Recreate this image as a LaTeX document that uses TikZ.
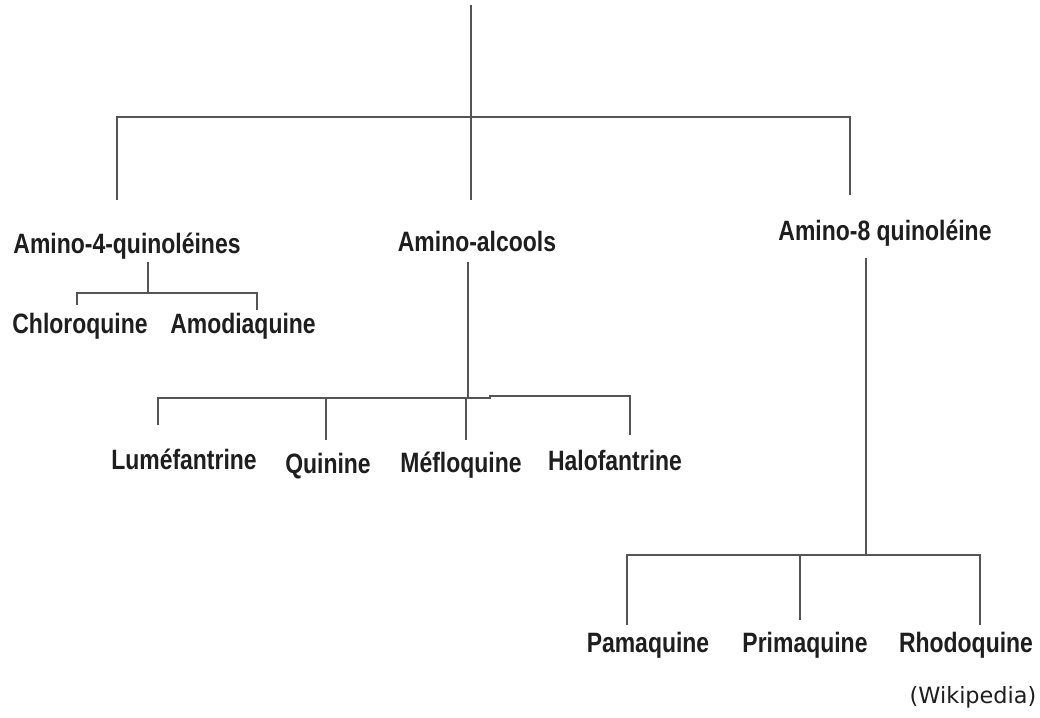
\documentclass[tikz,border=0pt]{standalone}
\usepackage{fontspec}
\setmainfont{Liberation Sans}
\newfontfamily\srcfont{DejaVu Sans}
\definecolor{linegray}{HTML}{555555}
\definecolor{txt}{HTML}{1E1E1E}
\newcommand{\lbl}[1]{\scalebox{0.82}[1]{\bfseries #1}}
\begin{document}
\begin{tikzpicture}[x=0.75pt,y=-0.75pt,
  edge/.style={draw=linegray,line width=1.6pt},
  lab/.style={inner sep=0pt,anchor=base,text=txt,font=\fontsize{21}{24}\selectfont},
  src/.style={inner sep=0pt,anchor=base,text=txt,font=\srcfont\fontsize{16.8}{19}\selectfont}]
\useasboundingbox (0,0) rectangle (1040,718);
\fill[white] (0,0) rectangle (1040,718);
% labels
\node[lab] (a4q) at (127,253) {\lbl{Amino-4-quinoléines}};
\node[lab] (chl) at (80,333) {\lbl{Chloroquine}};
\node[lab] (amo) at (243,333) {\lbl{Amodiaquine}};
\node[lab] (aal) at (477,251) {\lbl{Amino-alcools}};
\node[lab] (lum) at (184,469) {\lbl{Luméfantrine}};
\node[lab] (qui) at (328,473) {\lbl{Quinine}};
\node[lab] (mef) at (461,472) {\lbl{Méfloquine}};
\node[lab] (hal) at (615,470) {\lbl{Halofantrine}};
\node[lab] (a8q) at (885,240) {\lbl{Amino-8 quinoléine}};
\node[lab] (pam) at (648,652) {\lbl{Pamaquine}};
\node[lab] (pri) at (805,652) {\lbl{Primaquine}};
\node[lab] (rho) at (966,652) {\lbl{Rhodoquine}};
\node[src] (wiki) at (973,703) {(Wikipedia)};
% junction coordinates
\coordinate (top) at (471,5);
\coordinate (j0) at (471,117);
\coordinate (j0l) at (117,117);
\coordinate (j0r) at (850,117);
\coordinate (j0lb) at (117,200);
\coordinate (j0mb) at (471,200);
\coordinate (j0rb) at (850,195);
% top level
\draw[edge] (top) -- (j0);
\draw[edge] (j0lb) -- (j0l) -- (j0r) -- (j0rb);
\draw[edge] (j0) -- (j0mb);
% Amino-4-quinoleines
\coordinate (a4s) at (148,262);
\coordinate (a4j) at (148,293);
\draw[edge] (a4s) -- (a4j);
\draw[edge] (77,305) -- (77,293) -- (257,293) -- (257,310);
% Amino-alcools
\coordinate (aas) at (468,262);
\coordinate (aaj) at (468,398);
\draw[edge] (aas) -- (aaj);
\draw[edge] (158,425) -- (158,398) -- (490,398) -- (490,396) -- (630,396) -- (630,435);
\draw[edge] (326,398) -- (326,440);
\draw[edge] (466,398) -- (466,440);
% Amino-8 quinoleine
\coordinate (a8s) at (866,258);
\coordinate (a8j) at (866,555);
\draw[edge] (a8s) -- (a8j);
\draw[edge] (627,625) -- (627,555) -- (980,555) -- (980,625);
\draw[edge] (800,555) -- (800,620);
\end{tikzpicture}
\end{document}
